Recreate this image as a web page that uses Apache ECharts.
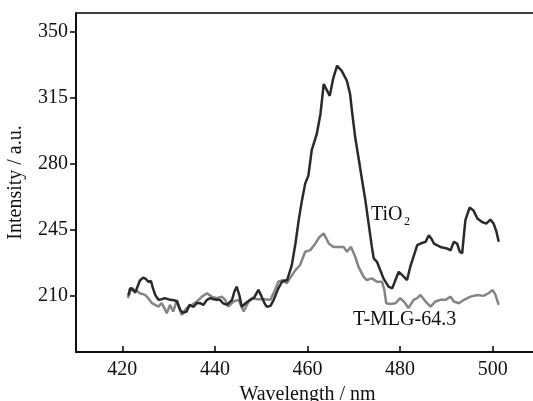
<!DOCTYPE html>
<html>
<head>
<meta charset="utf-8">
<script src="https://cdn.jsdelivr.net/npm/echarts@6/dist/echarts.min.js"></script>
<style>
  html, body { margin: 0; padding: 0; background: #fff; }
  #chart { width: 533px; height: 401px; }
</style>
</head>
<body>
<div id="chart"></div>
<script>
// TiO2 spectrum (dark line)
const tioWl = [421.3, 421.7, 422.3, 422.8, 423.8, 424.5, 425.1, 425.6, 426.2, 426.6, 427.1, 427.8, 428.5, 429.2, 430.3, 431.2, 431.8, 432.5, 433.1, 433.9,
    434.5, 435.4, 436.1, 436.8, 437.5, 438.3, 439.0, 439.7, 440.4, 441.1, 441.7, 442.6, 443.7, 444.2, 444.7, 445.3, 445.8, 446.7, 447.6, 448.5,
    449.4, 450.1, 450.7, 451.2, 452.0, 452.7, 453.7, 454.5, 455.6, 456.6, 457.4, 458.1, 458.8, 459.5, 460.2, 460.9, 462.0, 462.8, 463.5, 463.8,
    464.8, 465.6, 466.4, 467.4, 468.5, 469.2, 469.6, 470.3, 471.0, 471.8, 472.5, 473.2, 473.9, 474.3, 475.0, 475.7, 476.4, 477.5, 478.3, 479.0,
    479.7, 480.4, 481.5, 482.2, 482.9, 483.7, 484.4, 485.5, 486.2, 486.8, 487.3, 488.7, 490.1, 490.9, 491.6, 492.3, 492.9, 493.4, 494.1, 495.0,
    495.8, 496.7, 497.7, 498.6, 499.5, 500.2, 500.8, 501.3];
const tioVal = [210, 214, 213, 211.5, 218, 219.5, 218.8, 217.3, 217.7, 214, 210.3, 207.7, 208, 208.6, 207.7, 207.5, 206.8, 202.4, 200.8, 201.5,
    205, 204, 206, 205.9, 205, 207.7, 208.6, 208, 207.7, 207.7, 206, 205, 207.7, 212, 214.7, 210, 204, 206, 207.7, 209,
    213, 209.4, 206, 204, 204.5, 207.7, 213.8, 217.3, 218.2, 226, 237.6, 250, 260.5, 269.4, 273.8, 287, 295.8, 306.4, 322.3, 323.1,
    316, 325.7, 332, 329.3, 324, 317, 308, 294, 283.4, 271.1, 260.5, 248.2, 235.8, 229.7, 227.9, 223.5, 219.1, 214.7, 213.8, 218.2,
    222.6, 220.9, 218.2, 225.3, 230.6, 236.7, 237.6, 238.5, 242, 240, 237.6, 235.8, 235, 234, 238.5, 237.6, 233.2, 232.4, 250, 256.7,
    255.3, 250.9, 249, 248.2, 250.3, 248.2, 244, 238.5];

// T-MLG-64.3 spectrum (grey line)
const mlgWl = [421.2, 422.0, 422.6, 423.2, 423.8, 424.9, 425.6, 426.4, 427.1, 427.8, 428.5, 429.1, 429.6, 430.3, 431.0, 431.8, 432.3, 432.8, 433.9, 435.0,
    436.1, 437.2, 438.3, 439.3, 440.4, 441.5, 442.2, 442.9, 444.0, 445.1, 446.2, 447.3, 448.2, 449.1, 450.5, 452.0, 453.0, 453.7, 454.8, 455.5,
    456.2, 457.4, 458.4, 459.5, 460.6, 461.7, 462.6, 463.5, 464.6, 465.6, 466.7, 467.8, 468.5, 469.4, 470.3, 471.0, 472.1, 472.8, 473.9, 475.0,
    476.1, 476.6, 477.0, 477.8, 479.0, 480.0, 481.1, 481.8, 482.9, 483.7, 484.4, 485.5, 486.6, 487.6, 488.7, 489.8, 490.9, 491.6, 492.7, 493.8,
    495.2, 496.7, 498.0, 499.1, 500.0, 500.6, 501.3];
const mlgVal = [208.6, 214.2, 213, 212.4, 211.2, 210.3, 208.6, 205.9, 205, 204.1, 205.9, 203.3, 200.6, 205, 201.5, 207.7, 203.3, 199.7, 203.3, 205,
    206.8, 209.4, 211.2, 209.4, 208.6, 209.4, 207.7, 204.1, 206.8, 207.7, 201.5, 206.8, 208.5, 208, 208, 207.7, 213, 217.3, 218.2, 216.5,
    219.1, 223.5, 226.2, 233.2, 234.1, 237.6, 241.1, 243, 237.6, 235.8, 235.8, 235.8, 233.2, 235.8, 230.6, 225.3, 220, 218.2, 219.1, 217.3,
    217.3, 213, 205.9, 205.5, 205.9, 208.6, 205.9, 203.3, 207.7, 208.6, 210.3, 206.8, 204.1, 206.8, 207.7, 207.7, 209.4, 206.8, 205.9, 207.7,
    209.4, 210.3, 209.8, 211.2, 212.9, 210.3, 205];

const xTicks = [420, 440, 460, 480, 500];
const yTicks = [210, 245, 280, 315, 350];

const FONT = "'Liberation Serif', 'Times New Roman', serif";

const chart = echarts.init(document.getElementById('chart'));

const option = {
    animation: false,
    backgroundColor: '#fff',
    grid: {
        left: 76,
        top: 13,
        right: -6,
        bottom: 49,
        outerBoundsMode: 'none',
        show: true,
        borderColor: '#000',
        borderWidth: 1.5,
    },
    xAxis: {
        type: 'value',
        min: 410,
        max: 510,
        name: 'Wavelength / nm',
        nameLocation: 'middle',
        nameGap: 29,
        nameTextStyle: { fontFamily: FONT, fontSize: 20, color: '#111' },
        axisLine: { lineStyle: { color: '#000', width: 1.5 } },
        axisTick: { inside: true, length: 6, customValues: xTicks, lineStyle: { color: '#000', width: 1.5 } },
        axisLabel: { customValues: xTicks, margin: 8, fontFamily: FONT, fontSize: 20, color: '#111' },
        splitLine: { show: false },
    },
    yAxis: {
        type: 'value',
        min: 180,
        max: 360,
        name: 'Intensity / a.u.',
        nameLocation: 'middle',
        nameGap: 50,
        nameTextStyle: { fontFamily: FONT, fontSize: 20, color: '#111' },
        axisLine: { show: true, lineStyle: { color: '#000', width: 1.5 } },
        axisTick: { show: true, length: 6, customValues: yTicks, lineStyle: { color: '#000', width: 1.5 } },
        axisLabel: { customValues: yTicks, margin: 8, fontFamily: FONT, fontSize: 20, color: '#111' },
        splitLine: { show: false },
    },
    series: [
        {
            name: 'T-MLG-64.3',
            type: 'line',
            data: mlgWl.map((w, i) => [w, mlgVal[i]]),
            showSymbol: false,
            lineStyle: { color: '#858585', width: 2.5 },
            z: 2,
        },
        {
            name: 'TiO2',
            type: 'line',
            data: tioWl.map((w, i) => [w, tioVal[i]]),
            showSymbol: false,
            lineStyle: { color: '#2a2a2a', width: 2.5 },
            z: 3,
        },
    ],
    graphic: [
        {
            type: 'text', left: 371, top: 205,
            style: { text: 'TiO', font: '20px ' + FONT, fill: '#111' },
        },
        {
            type: 'text', left: 404, top: 216,
            style: { text: '2', font: '12px ' + FONT, fill: '#111' },
        },
        {
            type: 'text', left: 353, top: 310,
            style: { text: 'T-MLG-64.3', font: '20px ' + FONT, fill: '#111' },
        },
    ],
};

chart.setOption(option);
</script>
</body>
</html>
